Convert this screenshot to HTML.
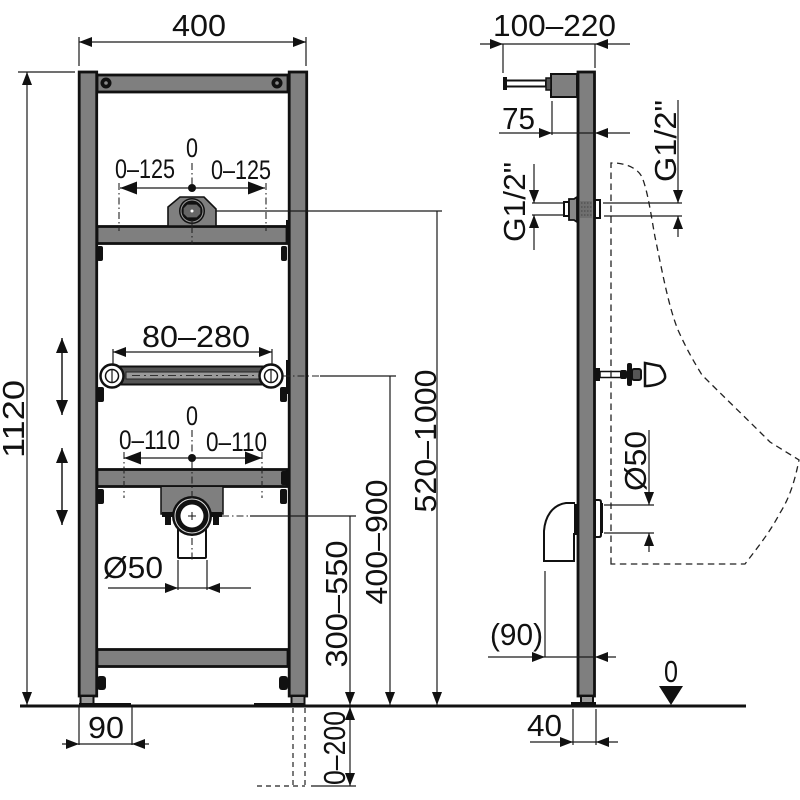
<!DOCTYPE html>
<html><head><meta charset="utf-8"><style>
html,body{margin:0;padding:0;background:#fff}
svg{display:block}
text{font-family:"Liberation Sans",sans-serif;fill:#111}
.s{fill:#7f7f7f;stroke:#111;stroke-width:2.800}
.k{fill:#111;stroke:none}
.l{stroke:#1a1a1a;stroke-width:1.200;fill:none}
.w{fill:#fff;stroke:#111;stroke-width:2}
.d{stroke:#222;stroke-width:1.200;fill:none;stroke-dasharray:5 4}
.dd{stroke:#222;stroke-width:1.100;fill:none;stroke-dasharray:7 3 1.500 3}
.u{stroke:#222;stroke-width:1.300;fill:none;stroke-dasharray:6.500 4.500}
</style></head><body>
<svg width="800" height="800" viewBox="0 0 800 800" xmlns="http://www.w3.org/2000/svg">
<defs>
<marker id="a" markerUnits="userSpaceOnUse" markerWidth="15" markerHeight="12" refX="13" refY="6" orient="auto-start-reverse"><path d="M0 1L13 6L0 11Z" fill="#111"/></marker>
<marker id="b" markerUnits="userSpaceOnUse" markerWidth="18" markerHeight="14" refX="17" refY="7" orient="auto-start-reverse"><path d="M0 .5L17 7L0 13.500Z" fill="#111"/></marker>
<marker id="c" markerUnits="userSpaceOnUse" markerWidth="16" markerHeight="14" refX="15" refY="7" orient="auto-start-reverse"><path d="M0 1L15 7L0 13Z" fill="#111"/></marker>
</defs>

<!-- LEFT FRAME -->
<rect class="s" x="97" y="75" width="191" height="17"/>
<rect class="s" x="97" y="226.500" width="190" height="17"/>
<rect class="s" x="97" y="469.500" width="190" height="17"/>
<rect class="s" x="97" y="649.500" width="191" height="17"/>
<rect class="s" x="79.200" y="72" width="17.500" height="624"/>
<rect class="s" x="289.200" y="72" width="17.500" height="624"/>
<rect class="s" x="80.500" y="696" width="13" height="9" style="fill:#999;stroke-width:2"/>
<rect class="s" x="291.500" y="696" width="13" height="9" style="fill:#999;stroke-width:2"/>
<circle cx="106" cy="83" r="5.500" class="k"/><circle cx="106" cy="83" r="1.800" fill="#888"/>
<circle cx="277" cy="83" r="5.500" class="k"/><circle cx="277" cy="83" r="1.800" fill="#888"/>
<!-- side bolts -->
<g class="k">
<rect x="97" y="246" width="6" height="15" rx="2"/><rect x="281" y="246" width="6" height="15" rx="2"/>
<rect x="96" y="222" width="2" height="24"/><rect x="286" y="220" width="2" height="24"/>
<rect x="97" y="387" width="7" height="15" rx="2"/><rect x="280" y="387" width="7" height="15" rx="2"/>
<rect x="97" y="489" width="7" height="15" rx="2"/><rect x="280" y="489" width="7" height="15" rx="2"/>
<rect x="281" y="471" width="7" height="14" rx="2"/>
<rect x="97" y="676" width="9" height="14" rx="3"/><rect x="279" y="676" width="9" height="14" rx="3"/>
<rect x="286" y="360" width="3" height="34"/><rect x="96" y="362" width="2" height="30"/>
</g>

<!-- top bracket -->
<path d="M168 226V207L180 197H204L216 209V226Z" fill="#7f7f7f" stroke="#111" stroke-width="1.600"/>
<circle cx="192" cy="211" r="13" class="k"/><circle cx="192" cy="211" r="11" fill="none" stroke="#999" stroke-width="1"/>
<path d="M187 204h10l4 4v6l-4 4h-10l-4-4v-6z" fill="#666" stroke="#111" stroke-width="1.300"/>
<circle cx="192" cy="211" r="1.500" fill="#fff"/>

<!-- middle rail -->
<rect x="115" y="366.500" width="156" height="18" fill="#555" stroke="#111" stroke-width="2"/>
<rect x="126" y="372" width="134" height="7" fill="#999" stroke="#222" stroke-width="1"/>
<line x1="132" y1="375.500" x2="256" y2="375.500" stroke="#333" stroke-dasharray="8 4 2 4"/>
<circle cx="112" cy="376" r="11.500" fill="#fff" stroke="#111" stroke-width="2.500"/><circle cx="112" cy="376" r="6.500" fill="#fff" stroke="#111" stroke-width="1.500"/>
<circle cx="271" cy="376" r="11.500" fill="#fff" stroke="#111" stroke-width="2.500"/><circle cx="271" cy="376" r="6.500" fill="#fff" stroke="#111" stroke-width="1.500"/>
<path d="M112 369v14M271 369v14" class="l"/>

<!-- lower bracket -->
<rect x="178" y="528" width="28" height="30" rx="1" class="w"/>
<path d="M161 487V514H223V487" fill="#7f7f7f" stroke="#111" stroke-width="1.500"/>
<g class="k"><rect x="162" y="512" width="60" height="5"/><rect x="165" y="515" width="6" height="10"/><rect x="213" y="515" width="6" height="10"/></g>
<circle cx="192" cy="516" r="20" class="k"/><circle cx="192" cy="516" r="17" fill="none" stroke="#ddd" stroke-width="1"/>
<circle cx="192" cy="516" r="11.500" fill="#fff"/>
<path d="M188 516h8M192 512v8" stroke="#111" stroke-width="1"/>

<!-- centre dash-dot -->
<path class="dd" d="M192 163V184M192 220V226M192 226V244M192 430V455M192 462V498M192 538V560"/>
<path class="dd" d="M119 183V231M266 183V231M124 452V498M262 452V498"/>

<!-- ground lines -->
<rect x="20" y="704.500" width="726" height="3" class="k"/>
<rect x="79" y="703" width="52" height="2" class="k"/><rect x="254" y="703" width="51" height="2" class="k"/>

<!-- Left dimensions -->
<path class="l" d="M79 37V66M306 37V66M18 72H75"/>
<line class="l" x1="79" y1="42" x2="306" y2="42" marker-start="url(#a)" marker-end="url(#a)"/>
<line class="l" x1="27" y1="72" x2="27" y2="705" marker-start="url(#a)" marker-end="url(#a)"/>
<line class="l" x1="120" y1="188" x2="265" y2="188" marker-start="url(#b)" marker-end="url(#b)"/>
<circle cx="192" cy="188" r="4" class="k"/>
<line class="l" x1="216" y1="211" x2="442" y2="211"/>
<line class="l" x1="437" y1="211" x2="437" y2="705" marker-end="url(#a)"/>
<line class="l" x1="113" y1="352" x2="272" y2="352" marker-start="url(#a)" marker-end="url(#a)"/>
<path class="l" d="M113 349V366M272 349V366"/>
<line class="dd" x1="283" y1="376" x2="320" y2="376"/><line class="l" x1="320" y1="376" x2="396" y2="376"/>
<line class="l" x1="390" y1="376" x2="390" y2="705" marker-end="url(#a)"/>
<line x1="62" y1="338" x2="62" y2="415" class="l" style="stroke-width:1.500" marker-start="url(#c)" marker-end="url(#c)"/>
<line x1="62" y1="448" x2="62" y2="525" class="l" style="stroke-width:1.500" marker-start="url(#c)" marker-end="url(#c)"/>
<line class="l" x1="124" y1="458" x2="262" y2="458" marker-start="url(#b)" marker-end="url(#b)"/>
<circle cx="192" cy="458" r="4" class="k"/>
<line class="dd" x1="222" y1="516" x2="250" y2="516"/><line class="l" x1="250" y1="516" x2="356" y2="516"/>
<line class="l" x1="350" y1="516" x2="350" y2="705" marker-end="url(#a)"/>
<line class="l" x1="350" y1="786" x2="350" y2="707" marker-start="url(#a)" marker-end="url(#a)"/>
<line class="l" x1="311" y1="786" x2="356" y2="786"/>
<path class="d" d="M293 708V786M305 708V786M257 786H305"/>
<path class="l" d="M178 560V590M207 560V590"/>
<line class="l" x1="108" y1="588" x2="178" y2="588" marker-end="url(#a)"/>
<line class="l" x1="178" y1="588" x2="207" y2="588"/>
<line class="l" x1="251" y1="588" x2="207" y2="588" marker-end="url(#a)"/>
<path class="l" d="M79 707V745M132 707V745"/>
<line class="l" x1="62" y1="744" x2="79" y2="744" marker-end="url(#a)"/>
<line class="l" x1="79" y1="744" x2="132" y2="744"/>
<line class="l" x1="149" y1="744" x2="132" y2="744" marker-end="url(#a)"/>

<!-- Left text -->
<text x="199" y="36" font-size="31" text-anchor="middle" textLength="54" lengthAdjust="spacingAndGlyphs">400</text>
<text font-size="31" text-anchor="middle" textLength="78" lengthAdjust="spacingAndGlyphs" transform="translate(24 419) rotate(-90)">1120</text>
<text x="192" y="157" font-size="27" text-anchor="middle" textLength="12" lengthAdjust="spacingAndGlyphs">0</text>
<text x="115" y="178" font-size="27" textLength="60" lengthAdjust="spacingAndGlyphs">0–125</text>
<text x="211" y="179" font-size="27" textLength="60" lengthAdjust="spacingAndGlyphs">0–125</text>
<text x="142" y="347" font-size="31" textLength="108" lengthAdjust="spacingAndGlyphs">80–280</text>
<text x="192" y="425" font-size="27" text-anchor="middle" textLength="12" lengthAdjust="spacingAndGlyphs">0</text>
<text x="119" y="449" font-size="27" textLength="61" lengthAdjust="spacingAndGlyphs">0–110</text>
<text x="206" y="451" font-size="27" textLength="61" lengthAdjust="spacingAndGlyphs">0–110</text>
<text x="103" y="578" font-size="31" textLength="60" lengthAdjust="spacingAndGlyphs">Ø50</text>
<text x="106" y="738" font-size="31" text-anchor="middle" textLength="36" lengthAdjust="spacingAndGlyphs">90</text>
<text font-size="31" text-anchor="middle" textLength="143" lengthAdjust="spacingAndGlyphs" transform="translate(436 441) rotate(-90)">520–1000</text>
<text font-size="31" text-anchor="middle" textLength="125" lengthAdjust="spacingAndGlyphs" transform="translate(387 542) rotate(-90)">400–900</text>
<text font-size="31" text-anchor="middle" textLength="127" lengthAdjust="spacingAndGlyphs" transform="translate(347 604) rotate(-90)">300–550</text>
<text font-size="31" text-anchor="middle" textLength="74" lengthAdjust="spacingAndGlyphs" transform="translate(345 748) rotate(-90)">0–200</text>

<!-- SIDE VIEW -->
<rect class="s" x="578" y="72" width="16.500" height="624"/>
<rect x="581" y="696" width="12" height="8" fill="#999" stroke="#111" stroke-width="2"/>
<rect x="571" y="702" width="25" height="3" class="k"/>
<rect x="551" y="74" width="26" height="23" fill="#7f7f7f" stroke="#111" stroke-width="2"/>
<rect x="506" y="80.500" width="40" height="6" fill="#fff" stroke="#111" stroke-width="2"/>
<rect x="503" y="77" width="4" height="13" class="k"/>
<rect x="546" y="78" width="5" height="12" fill="#555" stroke="#111" stroke-width="1.500"/>
<!-- upper fitting -->
<rect x="564" y="202" width="5" height="14" class="w"/>
<path d="M569 199h5l3-2v25l-3-2h-5z" fill="#888" stroke="#111" stroke-width="1.800"/>
<rect x="595" y="200" width="5" height="18" class="w"/>
<rect x="580" y="201" width="12" height="17" fill="#6f6f6f"/>
<path d="M581 203h11M581 207h11M581 211h11M581 215h11" stroke="#444" stroke-dasharray="1.500 1.500"/>
<!-- wall bolt -->
<rect x="595" y="368" width="5" height="13" class="k"/>
<rect x="600" y="371.500" width="24" height="6" class="w" style="stroke-width:1.500"/>
<rect x="627" y="363" width="5" height="23" rx="2" class="k"/>
<rect x="620" y="370" width="7" height="9" rx="2" class="k"/><rect x="632" y="369" width="9" height="11" rx="2" fill="#555" stroke="#111" stroke-width="2"/>
<path d="M645 363L660 366Q666 373 665 378Q662 385 647 386H645Z" fill="#fff" stroke="#111" stroke-width="2.500"/>
<!-- trap -->
<path d="M575 503H566C552 505 545 517 544 531V561H574V534H577" fill="#fff" stroke="#111" stroke-width="2"/>
<rect x="574" y="504" width="3" height="30" class="k"/>
<path d="M595 500h4q2 0 2 2v33q0 2-2 2h-4z" fill="#fff" stroke="#111" stroke-width="2"/>
<rect x="600" y="503" width="3" height="30" class="k"/>
<!-- urinal outline -->
<path class="u" d="M611 564V163H616C628 164 638 169 642 177C648 192 651 215 655 237C662 270 668 305 678 330C686 348 694 362 702 375C722 395 748 420 770 442L799 460C795 480 790 497 780 513C770 532 758 547 745 564H611Z"/>

<!-- Side dimensions -->
<path class="l" d="M503 44V73M595 44V68M552 101V135"/>
<line class="l" x1="480" y1="44" x2="503" y2="44" marker-end="url(#a)"/>
<line class="l" x1="503" y1="44" x2="595" y2="44"/>
<line class="l" x1="630" y1="44" x2="595" y2="44" marker-end="url(#a)"/>
<line class="l" x1="499" y1="133" x2="552" y2="133" marker-end="url(#a)"/>
<line class="l" x1="552" y1="133" x2="595" y2="133"/>
<line class="l" x1="630" y1="133" x2="595" y2="133" marker-end="url(#a)"/>
<path class="l" d="M532 203H563M532 215H563M603 203H682M604 216H682"/>
<line class="l" x1="534" y1="164" x2="534" y2="203" marker-end="url(#a)"/>
<line class="l" x1="534" y1="250" x2="534" y2="215" marker-end="url(#a)"/>
<line class="l" x1="678" y1="100" x2="678" y2="203" marker-end="url(#a)"/>
<line class="l" x1="678" y1="237" x2="678" y2="216" marker-end="url(#a)"/>
<path class="l" d="M604 505H654M604 533H654"/>
<line class="l" x1="649" y1="430" x2="649" y2="505" marker-end="url(#a)"/>
<line class="l" x1="649" y1="552" x2="649" y2="533" marker-end="url(#a)"/>
<path class="l" d="M545 571V657M573 709V745M596 709V745"/>
<line class="l" x1="488" y1="657" x2="545" y2="657" marker-end="url(#a)"/>
<line class="l" x1="545" y1="657" x2="595" y2="657"/>
<line class="l" x1="616" y1="657" x2="595" y2="657" marker-end="url(#a)"/>
<line class="l" x1="530" y1="742" x2="573" y2="742" marker-end="url(#a)"/>
<line class="l" x1="573" y1="742" x2="596" y2="742"/>
<line class="l" x1="618" y1="742" x2="596" y2="742" marker-end="url(#a)"/>
<path d="M659 686H683L671 705Z" class="k"/>

<!-- Side text -->
<text x="493" y="36" font-size="31" textLength="123" lengthAdjust="spacingAndGlyphs">100–220</text>
<text x="502" y="129" font-size="31" textLength="33" lengthAdjust="spacingAndGlyphs">75</text>
<text font-size="31" text-anchor="middle" textLength="82" lengthAdjust="spacingAndGlyphs" transform="translate(676 141) rotate(-90)">G1/2"</text>
<text font-size="31" text-anchor="middle" textLength="80" lengthAdjust="spacingAndGlyphs" transform="translate(525 202) rotate(-90)">G1/2"</text>
<text font-size="31" text-anchor="middle" textLength="60" lengthAdjust="spacingAndGlyphs" transform="translate(646 461) rotate(-90)">Ø50</text>
<text x="490" y="645" font-size="31" textLength="53" lengthAdjust="spacingAndGlyphs">(90)</text>
<text x="527" y="736" font-size="31" textLength="35" lengthAdjust="spacingAndGlyphs">40</text>
<text x="671" y="682" font-size="31" text-anchor="middle" textLength="14" lengthAdjust="spacingAndGlyphs">0</text>
</svg>
</body></html>
